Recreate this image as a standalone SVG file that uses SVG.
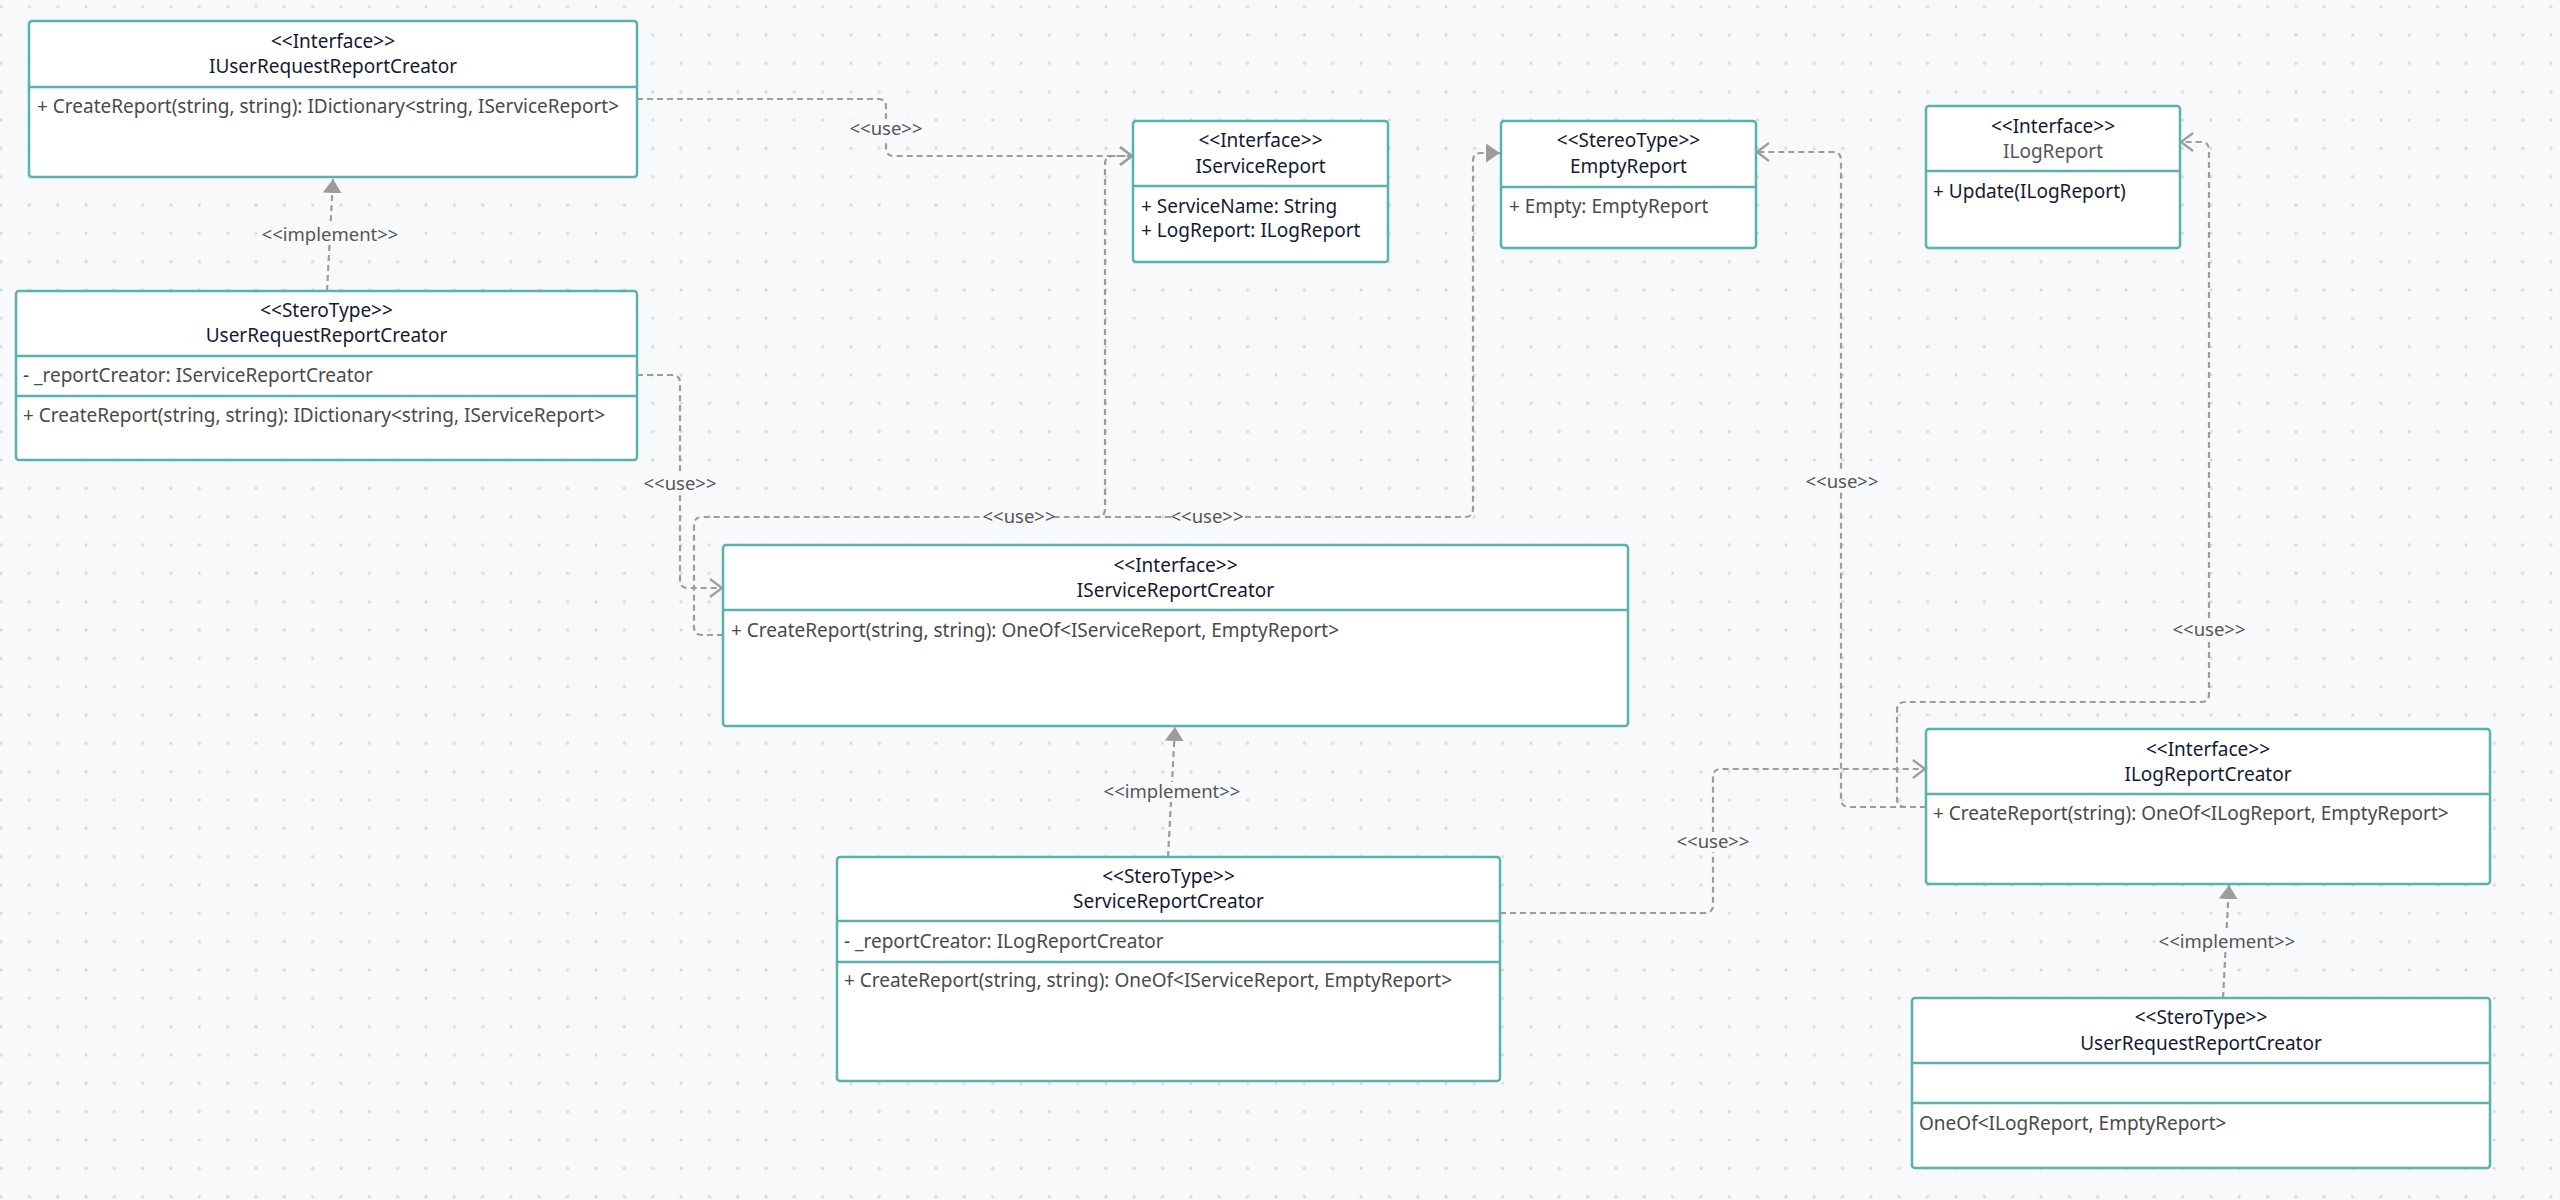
<svg xmlns="http://www.w3.org/2000/svg" width="2560" height="1200" viewBox="0 0 2560 1200">
  <style>
    .box { fill: #ffffff; stroke: #5bb0b0; stroke-width: 2.5; }
    .sep { stroke: #5bb0b0; stroke-width: 2.5; }
    .t { font-family: "Noto Sans", "Open Sans", sans-serif; font-size: 19px; }
    .title { fill: #141a33; text-anchor: middle; }
    .muted { fill: #555555; }
    .dark { fill: #141a33; }
    .member { fill: #4a4a4a; }
    .edge { fill: none; stroke: #9c9c9c; stroke-width: 2.2; stroke-dasharray: 6 4; }
    .lbl { font-family: "Noto Sans", "Open Sans", sans-serif; font-size: 18.5px; fill: #555555; text-anchor: middle; }
    .lblbg { fill: #f8f9fb; }
  </style>
  <defs>
    <pattern id="dots" x="1" y="6.7" width="28.333" height="28.333" patternUnits="userSpaceOnUse">
      <circle cx="0" cy="0" r="1.6" fill="#d7d9df"/>
      <circle cx="28.333" cy="0" r="1.6" fill="#d7d9df"/>
      <circle cx="0" cy="28.333" r="1.6" fill="#d7d9df"/>
      <circle cx="28.333" cy="28.333" r="1.6" fill="#d7d9df"/>
    </pattern>
    <marker id="open" markerUnits="userSpaceOnUse" markerWidth="16" markerHeight="22" refX="13" refY="10" orient="auto">
      <path d="M1,1 L13,10 L1,19" fill="none" stroke="#9c9c9c" stroke-width="2.2" stroke-dasharray="none"/>
    </marker>
    <marker id="tri" markerUnits="userSpaceOnUse" markerWidth="16" markerHeight="22" refX="14" refY="9.5" orient="auto">
      <path d="M0,0 L14,9.5 L0,19 Z" fill="#9c9c9c" stroke="none"/>
    </marker>
  </defs>

  <rect width="2560" height="1200" fill="#f8f9fb"/>
  <rect width="2560" height="1200" fill="url(#dots)"/>

  <!-- dependency and realization links -->
  <g id="connectors">
    <!-- IUserRequestReportCreator uses IServiceReport -->
    <path class="edge" d="M637,99 H878 Q886,99 886,107 V148 Q886,156 894,156 H1132" marker-end="url(#open)"/>
    <!-- UserRequestReportCreator uses IServiceReportCreator -->
    <path class="edge" d="M637,375 H672 Q680,375 680,383 V580 Q680,588 688,588 H722" marker-end="url(#open)"/>
    <!-- IServiceReportCreator uses IServiceReport -->
    <path class="edge" d="M723,635 H702 Q694,635 694,627 V525 Q694,517 702,517 H1097 Q1105,517 1105,509 V164 Q1105,156 1113,156 H1132" marker-end="url(#open)"/>
    <!-- IServiceReportCreator uses EmptyReport -->
    <path class="edge" d="M1105,517 H1465 Q1473,517 1473,509 V161 Q1473,153 1481,153 H1500" marker-end="url(#tri)"/>
    <!-- UserRequestReportCreator implements IUserRequestReportCreator -->
    <path class="edge" d="M327,291 L333,179" marker-end="url(#tri)"/>
    <!-- ServiceReportCreator implements IServiceReportCreator -->
    <path class="edge" d="M1168,857 L1175,727" marker-end="url(#tri)"/>
    <!-- ServiceReportCreator uses ILogReportCreator -->
    <path class="edge" d="M1500,913 H1705 Q1713,913 1713,905 V777 Q1713,769 1721,769 H1925" marker-end="url(#open)"/>
    <!-- ILogReportCreator uses EmptyReport -->
    <path class="edge" d="M1926,807 H1849 Q1841,807 1841,799 V160 Q1841,152 1833,152 H1757" marker-end="url(#open)"/>
    <!-- ILogReportCreator uses ILogReport -->
    <path class="edge" d="M1926,807 H1905 Q1897,807 1897,799 V710 Q1897,702 1905,702 H2201 Q2209,702 2209,694 V150 Q2209,142 2201,142 H2181" marker-end="url(#open)"/>
    <!-- UserRequestReportCreator implements ILogReportCreator -->
    <path class="edge" d="M2223,998 L2229,885" marker-end="url(#tri)"/>

    <!-- link labels -->
    <rect class="lblbg" x="850" y="119" width="72" height="20"/>
    <text class="lbl" x="886" y="135">&lt;&lt;use&gt;&gt;</text>
    <rect class="lblbg" x="644" y="474" width="72" height="20"/>
    <text class="lbl" x="680" y="490">&lt;&lt;use&gt;&gt;</text>
    <rect class="lblbg" x="985" y="508" width="68" height="18"/>
    <text class="lbl" x="1019" y="523">&lt;&lt;use&gt;&gt;</text>
    <rect class="lblbg" x="1171" y="508" width="72" height="18"/>
    <text class="lbl" x="1207" y="523">&lt;&lt;use&gt;&gt;</text>
    <rect class="lblbg" x="260" y="225" width="140" height="20"/>
    <text class="lbl" x="330" y="241">&lt;&lt;implement&gt;&gt;</text>
    <rect class="lblbg" x="1102" y="782" width="140" height="20"/>
    <text class="lbl" x="1172" y="798">&lt;&lt;implement&gt;&gt;</text>
    <rect class="lblbg" x="1677" y="832" width="72" height="20"/>
    <text class="lbl" x="1713" y="848">&lt;&lt;use&gt;&gt;</text>
    <rect class="lblbg" x="1806" y="472" width="72" height="20"/>
    <text class="lbl" x="1842" y="488">&lt;&lt;use&gt;&gt;</text>
    <rect class="lblbg" x="2173" y="620" width="72" height="20"/>
    <text class="lbl" x="2209" y="636">&lt;&lt;use&gt;&gt;</text>
    <rect class="lblbg" x="2157" y="932" width="140" height="20"/>
    <text class="lbl" x="2227" y="948">&lt;&lt;implement&gt;&gt;</text>
  </g>

  <g id="IUserRequestReportCreator">
    <rect class="box" x="29" y="21" width="608" height="156" rx="3"/>
    <line class="sep" x1="29" y1="87" x2="637" y2="87"/>
    <text class="t title" x="333" y="48">&lt;&lt;Interface&gt;&gt;</text>
    <text class="t title" x="333" y="73">IUserRequestReportCreator</text>
    <text class="t member" x="37" y="113">+ CreateReport(string, string): IDictionary&lt;string, IServiceReport&gt;</text>
  </g>

  <g id="UserRequestReportCreator">
    <rect class="box" x="16" y="291" width="621" height="169" rx="3"/>
    <line class="sep" x1="16" y1="356" x2="637" y2="356"/>
    <line class="sep" x1="16" y1="396" x2="637" y2="396"/>
    <text class="t title" x="326.5" y="317">&lt;&lt;SteroType&gt;&gt;</text>
    <text class="t title" x="326.5" y="342">UserRequestReportCreator</text>
    <text class="t member" x="23" y="382">- _reportCreator: IServiceReportCreator</text>
    <text class="t member" x="23" y="422">+ CreateReport(string, string): IDictionary&lt;string, IServiceReport&gt;</text>
  </g>

  <g id="IServiceReport">
    <rect class="box" x="1133" y="121" width="255" height="141" rx="3"/>
    <line class="sep" x1="1133" y1="186" x2="1388" y2="186"/>
    <text class="t title" x="1260.5" y="147">&lt;&lt;Interface&gt;&gt;</text>
    <text class="t title" x="1260.5" y="173">IServiceReport</text>
    <text class="t dark" x="1141" y="213">+ ServiceName: String</text>
    <text class="t dark" x="1141" y="237">+ LogReport: ILogReport</text>
  </g>

  <g id="EmptyReport">
    <rect class="box" x="1501" y="121" width="255" height="127" rx="3"/>
    <line class="sep" x1="1501" y1="187" x2="1756" y2="187"/>
    <text class="t title" x="1628.5" y="147">&lt;&lt;StereoType&gt;&gt;</text>
    <text class="t title" x="1628.5" y="173">EmptyReport</text>
    <text class="t member" x="1509" y="213">+ Empty: EmptyReport</text>
  </g>

  <g id="ILogReport">
    <rect class="box" x="1926" y="106" width="254" height="142" rx="3"/>
    <line class="sep" x1="1926" y1="171" x2="2180" y2="171"/>
    <text class="t title" x="2053" y="133">&lt;&lt;Interface&gt;&gt;</text>
    <text class="t title muted" x="2053" y="158">ILogReport</text>
    <text class="t dark" x="1933" y="198">+ Update(ILogReport)</text>
  </g>

  <g id="IServiceReportCreator">
    <rect class="box" x="723" y="545" width="905" height="181" rx="3"/>
    <line class="sep" x1="723" y1="610" x2="1628" y2="610"/>
    <text class="t title" x="1175.5" y="572">&lt;&lt;Interface&gt;&gt;</text>
    <text class="t title" x="1175.5" y="597">IServiceReportCreator</text>
    <text class="t member" x="731" y="637">+ CreateReport(string, string): OneOf&lt;IServiceReport, EmptyReport&gt;</text>
  </g>

  <g id="ServiceReportCreator">
    <rect class="box" x="837" y="857" width="663" height="224" rx="3"/>
    <line class="sep" x1="837" y1="921" x2="1500" y2="921"/>
    <line class="sep" x1="837" y1="962" x2="1500" y2="962"/>
    <text class="t title" x="1168.5" y="883">&lt;&lt;SteroType&gt;&gt;</text>
    <text class="t title" x="1168.5" y="908">ServiceReportCreator</text>
    <text class="t member" x="844" y="948">- _reportCreator: ILogReportCreator</text>
    <text class="t member" x="844" y="987">+ CreateReport(string, string): OneOf&lt;IServiceReport, EmptyReport&gt;</text>
  </g>

  <g id="ILogReportCreator">
    <rect class="box" x="1926" y="729" width="564" height="155" rx="3"/>
    <line class="sep" x1="1926" y1="794" x2="2490" y2="794"/>
    <text class="t title" x="2208" y="756">&lt;&lt;Interface&gt;&gt;</text>
    <text class="t title" x="2208" y="781">ILogReportCreator</text>
    <text class="t member" x="1933" y="820">+ CreateReport(string): OneOf&lt;ILogReport, EmptyReport&gt;</text>
  </g>

  <g id="UserRequestReportCreator-2">
    <rect class="box" x="1912" y="998" width="578" height="170" rx="3"/>
    <line class="sep" x1="1912" y1="1063" x2="2490" y2="1063"/>
    <line class="sep" x1="1912" y1="1103" x2="2490" y2="1103"/>
    <text class="t title" x="2201" y="1024">&lt;&lt;SteroType&gt;&gt;</text>
    <text class="t title" x="2201" y="1050">UserRequestReportCreator</text>
    <text class="t member" x="1919" y="1130">OneOf&lt;ILogReport, EmptyReport&gt;</text>
  </g>
</svg>
